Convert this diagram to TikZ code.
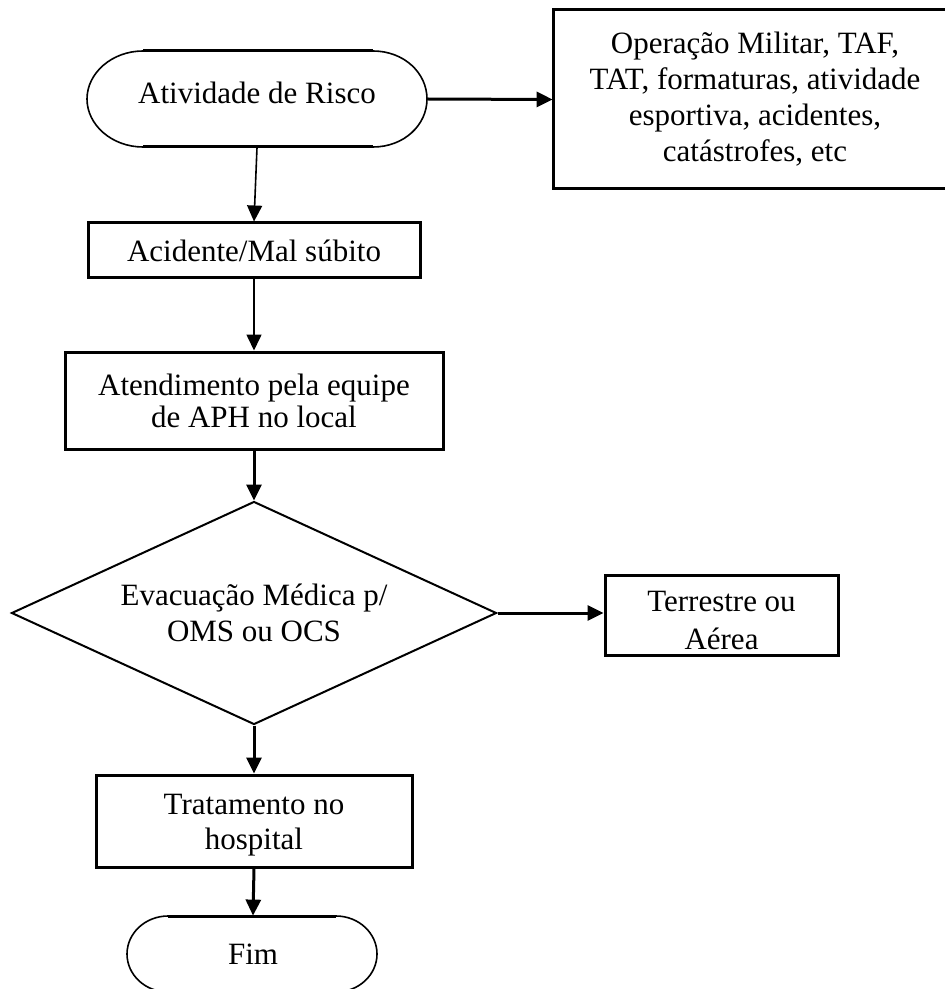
\documentclass[tikz,border=0pt]{standalone}
\usepackage{fontspec}
\setmainfont{Liberation Serif}
\usetikzlibrary{arrows.meta,shapes.geometric}
\begin{document}
\begin{tikzpicture}[x=0.5pt,y=-0.5pt,
  every node/.style={font=\fontsize{15.5}{18}\selectfont, align=center, inner sep=0pt},
  procbox/.style={draw, rectangle, line width=1.5pt},
  termnode/.style={rectangle},
  decision/.style={draw, diamond, line width=1pt, aspect=2.17},
  thickline/.style={line width=1.5pt},
  thinline/.style={line width=0.8pt},
  arr/.style={-{Triangle[length=8pt,width=7.5pt]}}]
\useasboundingbox (0,0) rectangle (945,989);

% terminator: Atividade de Risco
\node[termnode, minimum width=170pt, minimum height=48pt] (act) at (257,99)
  {\raisebox{3pt}[\height][\depth]{Atividade de Risco}};
\draw[thickline] (143,51) -- (373,51);
\draw[thickline] (143,147) -- (373,147);
\draw[thinline] (143,51) .. controls (112,51) and (87,73) .. (87,99) .. controls (87,125) and (112,147) .. (143,147);
\draw[thinline] (373,51) .. controls (404,51) and (427,73) .. (427,99) .. controls (427,125) and (404,147) .. (373,147);

% box running past the right edge of the picture
\node[rectangle, minimum width=202pt, minimum height=89.5pt] (ops) at (755,99.5)
  {Operação Militar, TAF,\\ TAT, formaturas, atividade\\ esportiva, acidentes,\\ catástrofes, etc};
\draw[thickline] (1000,10) -- (553,10) -- (553,189) -- (1000,189);

\node[procbox, minimum width=166pt, minimum height=27.5pt] (acc) at (254,250.5) {Acidente/Mal súbito};

\node[procbox, minimum width=189pt, minimum height=48.5pt, font=\fontsize{15.5}{16}\selectfont] (aph) at (254,400.5)
  {Atendimento pela equipe\\ de APH no local};

\node[decision, minimum width=242.5pt, minimum height=111.5pt] (evac) at (254,613)
  {Evacuação Médica p/\\ OMS ou OCS};

\node[procbox, minimum width=116.5pt, minimum height=40pt, font=\fontsize{15.5}{19}\selectfont] (terr) at (721.5,615)
  {\raisebox{-4pt}[\height][\depth]{\begin{tabular}{@{}c@{}}Terrestre ou\\ Aérea\end{tabular}}};

\node[procbox, minimum width=158pt, minimum height=46pt, font=\fontsize{15.5}{17.5}\selectfont] (trat) at (254,821)
  {\raisebox{-2pt}[\height][\depth]{\begin{tabular}{@{}c@{}}Tratamento no\\ hospital\end{tabular}}};

% terminator: Fim
\node[termnode, minimum width=125pt, minimum height=38pt] (fim) at (253,954) {Fim};
\draw[thickline] (168,916) -- (336,916);
\draw[thickline] (168,992) -- (336,992);
\draw[thinline] (168,916) .. controls (145.5,916) and (127,933) .. (127,954) .. controls (127,975) and (145.5,992) .. (168,992);
\draw[thinline] (336,916) .. controls (358.5,916) and (377,933) .. (377,954) .. controls (377,975) and (358.5,992) .. (336,992);

% connectors
\draw[thickline, arr] (act.east) -- (ops.west);
\draw[thinline, arr] (act.south) -- (acc.north);
\draw[thinline, arr] (acc.south) -- (aph.north);
\draw[thickline, arr] (aph.south) -- (evac.north);
\draw[thickline, arr] (evac.east) -- (evac.east -| terr.west);
\draw[thickline, arr] (evac.south) -- (trat.north);
\draw[thickline, arr] (trat.south) -- (fim.north);
\end{tikzpicture}
\end{document}
